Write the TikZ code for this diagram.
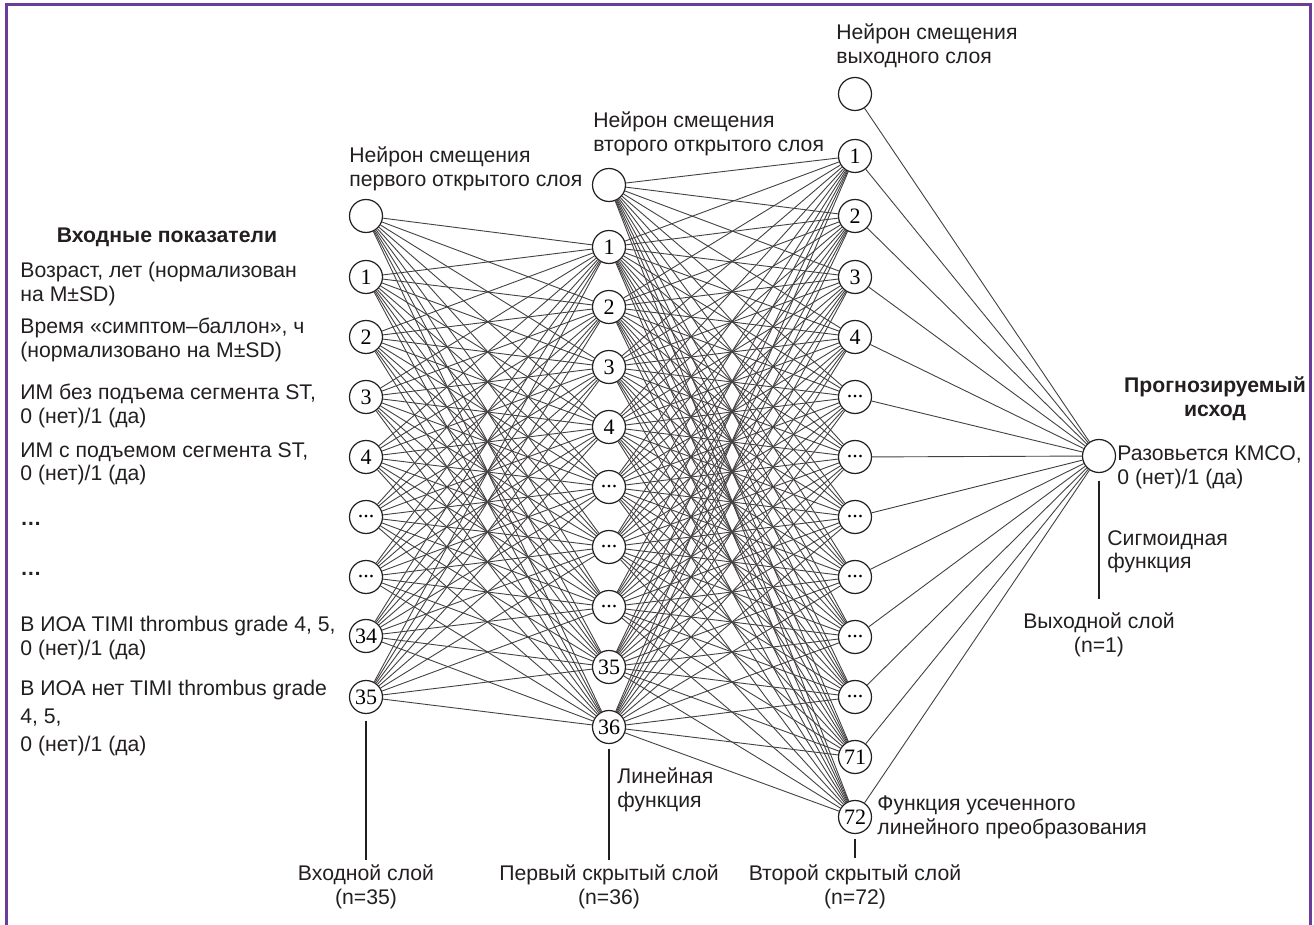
\documentclass[tikz,border=0pt]{standalone}
\usepackage{fontspec}
\setmainfont{Liberation Sans}
\newfontfamily\numfont{Liberation Serif}
\usetikzlibrary{positioning}
\definecolor{framecol}{HTML}{6A3D9A}
\definecolor{inkcol}{HTML}{231F20}
\newcommand\skipdots{...}

\begin{document}
\begin{tikzpicture}[x=0.5pt,y=-0.5pt]
% Define node styles
\tikzstyle{neuron} = [circle, draw=inkcol, fill=white, line width=0.6pt, minimum size=16.5pt, inner sep=0pt, font=\numfont\fontsize{11}{11}\selectfont]
\tikzstyle{link} = [draw=inkcol!85, line width=0.45pt]
\tikzstyle{marker} = [draw=inkcol, line width=1pt]
\tikzstyle{txt} = [inner sep=0pt, text=inkcol, font=\fontsize{10.6}{12}\selectfont, align=left, anchor=base west]
\tikzstyle{layer} = [txt, align=center, anchor=base]

\useasboundingbox (0,0) rectangle (1314,925);
\draw[framecol, line width=1.5pt] (6,925) -- (6,5) -- (1310,5) -- (1310,925);

% Draw nodes
\node[neuron] (i0) at (366,216) {};
\foreach \n/\y/\t in {1/277/1,2/337/2,3/397/3,4/457/4,5/517/\skipdots,6/577/\skipdots,7/636/34,8/697/35}
  \node[neuron] (i\n) at (366,\y) {\t};

\node[neuron] (h0) at (609,185) {};
\foreach \n/\y/\t in {1/247/1,2/307/2,3/367/3,4/427/4,5/487/\skipdots,6/547/\skipdots,7/607/\skipdots,8/667/35,9/727/36}
  \node[neuron] (h\n) at (609,\y) {\t};

\node[neuron] (ob) at (855,94) {};
\foreach \n/\y/\t in {1/156/1,2/216/2,3/277/3,4/337/4,5/397/\skipdots,6/457/\skipdots,7/517/\skipdots,8/577/\skipdots,9/637/\skipdots,10/697/\skipdots,11/757/71,12/817/72}
  \node[neuron] (k\n) at (855,\y) {\t};

\node[neuron] (out) at (1099,456) {};

% Draw edges
\foreach \s in {0,...,8}
  \foreach \t in {1,...,9}
    \draw[link] (i\s) -- (h\t);
\foreach \s in {0,...,9}
  \foreach \t in {1,...,12}
    \draw[link] (h\s) -- (k\t);
\foreach \s in {1,...,12}
  \draw[link] (k\s) -- (out);
\draw[link] (ob) -- (out);

% Input labels
\node[txt, font=\bfseries\fontsize{10.6}{12}\selectfont, anchor=base] (intitle) at (167,243) {Входные показатели};
\node[txt] (t1) at (20,302) {Возраст, лет (нормализован\\на M±SD)};
\node[txt] (t2) at (20,358) {Время «симптом–баллон», ч\\(нормализовано на M±SD)};
\node[txt] (t3) at (20,424) {ИМ без подъема сегмента ST,\\0 (нет)/1 (да)};
\node[txt] (t4) at (20,481) {ИМ с подъемом сегмента ST,\\0 (нет)/1 (да)};
\node[txt, font=\bfseries\fontsize{10.6}{12}\selectfont] (t5) at (20,526) {…};
\node[txt, font=\bfseries\fontsize{10.6}{12}\selectfont] (t6) at (20,576) {…};
\node[txt] (t7) at (20,655) {В ИОА TIMI thrombus grade 4, 5,\\0 (нет)/1 (да)};
\node[txt, font=\fontsize{10.6}{14}\selectfont] (t8) at (20,751) {В ИОА нет TIMI thrombus grade\\4, 5,\\0 (нет)/1 (да)};

% Bias labels
\node[txt] (b1) at (349,187) {Нейрон смещения\\первого открытого слоя};
\node[txt] (b2) at (593,152) {Нейрон смещения\\второго открытого слоя};
\node[txt] (b3) at (836,64) {Нейрон смещения\\выходного слоя};

% Output labels
\node[txt, font=\bfseries\fontsize{10.6}{12}\selectfont, align=center, anchor=base] (outtitle) at (1215,417) {Прогнозируемый\\исход};
\node[txt] (outtxt) at (1117,485) {Разовьется КМСО,\\0 (нет)/1 (да)};
\node[txt] (sigm) at (1107,569) {Сигмоидная\\функция};
\node[txt] (lin) at (617,807) {Линейная\\функция};
\node[txt] (relu) at (877,834) {Функция усеченного\\линейного преобразования};

% Layer labels
\node[layer] (inlab) at (366,904) {Входной слой\\(n=35)};
\node[layer] (h1lab) at (609,904) {Первый скрытый слой\\(n=36)};
\node[layer] (h2lab) at (855,904) {Второй скрытый слой\\(n=72)};
\node[layer] (outlab) at (1099,653) {Выходной слой\\(n=1)};

\draw[marker, shorten <=3.25pt, shorten >=2pt] (i8.south) -- (inlab.north);
\draw[marker, shorten <=2.25pt, shorten >=2pt] (h9.south) -- (h1lab.north);
\draw[marker, shorten <=2.25pt, shorten >=3pt] (k12.south) -- (h2lab.north);
\draw[marker, shorten <=3.75pt, shorten >=7pt] (out.south) -- (outlab.north);
\end{tikzpicture}
\end{document}
